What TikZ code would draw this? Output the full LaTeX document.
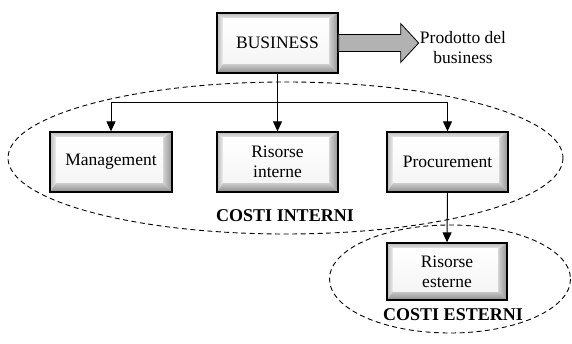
\documentclass[tikz,border=0pt]{standalone}
\usepackage{fontspec}
\setmainfont{Liberation Serif}
\usetikzlibrary{arrows.meta,calc}
\tikzset{
  txt/.style={font=\fontsize{17.5}{20}\selectfont, align=center, inner sep=0pt},
  lbl/.style={font=\fontsize{18}{20}\selectfont\bfseries, inner sep=0pt},
  bev/.style={draw=black, line width=1.3pt, minimum width=121pt, minimum height=60pt,
    inner sep=0pt, align=center, font=\fontsize{17.5}{20}\selectfont,
    path picture={
      \coordinate (BL) at (path picture bounding box.south west);
      \coordinate (TR) at (path picture bounding box.north east);
      \coordinate (TL) at (BL |- TR);
      \coordinate (BR) at (TR |- BL);
      \coordinate (iTL) at ($(TL)+(6pt,-6pt)$);
      \coordinate (iTR) at ($(TR)+(-9pt,-6pt)$);
      \coordinate (iBR) at ($(BR)+(-9pt,9pt)$);
      \coordinate (iBL) at ($(BL)+(6pt,9pt)$);
      \shade[top color=gray!55, bottom color=gray!12] (TL)--(TR)--(iTR)--(iTL)--cycle;
      \shade[left color=gray!55, right color=gray!12] (TL)--(iTL)--(iBL)--(BL)--cycle;
      \shade[left color=gray!35, right color=gray!85] (TR)--(BR)--(iBR)--(iTR)--cycle;
      \shade[top color=gray!40, bottom color=gray!90] (BL)--(iBL)--(iBR)--(BR)--cycle;
      \shade[top color=white, bottom color=gray!8] (iTL) rectangle (iBR);
    }},
  conn/.style={line width=1pt, -{Triangle[length=10pt,width=9pt]}},
  zone/.style={line width=0.9pt, dash pattern=on 5pt off 3.5pt}
}
\begin{document}
\begin{tikzpicture}[x=1pt,y=-1pt]
\useasboundingbox[fill=white] (0,0) rectangle (572,344);

% cost zones
\draw[zone] (285.5,158) ellipse [x radius=277.5, y radius=76];
\draw[zone] (450,279) ellipse [x radius=120.5, y radius=54];

% boxes
\node[bev] (biz) at (277.5,43) {BUSINESS};
\node[bev, minimum width=122pt] (mgmt) at (111,162) {Management};
\node[bev] (rint) at (277.5,162) {Risorse\\interne};
\node[bev] (proc) at (447.5,162) {Procurement};
\node[bev, minimum width=120pt, minimum height=57pt] (rest) at (447,271.5) {Risorse\\esterne};

% fat output arrow
\draw[line width=0.8pt, top color=gray!60, middle color=white, bottom color=gray!60]
  ($(biz.east)+(0,-8.5)$) -- ++(62,0) -- ++(0,-11) -- ++(18,19.5) -- ++(-18,19.5)
  -- ++(0,-11) -- ($(biz.east)+(0,8.5)$) -- cycle;
\node[txt] (prod) at (463,48) {Prodotto del\\business};

% connectors
\coordinate (j) at (277.5,103);
\draw[conn] (biz.south) -- (rint.north);
\draw[conn] (j) -| (mgmt.north);
\draw[conn] (j) -| (proc.north);
\draw[conn] (proc.south) -- (rest.north);

% labels
\node[lbl] (ci) at (285,216) {COSTI INTERNI};
\node[lbl] (ce) at (453,315) {COSTI ESTERNI};
\end{tikzpicture}
\end{document}
